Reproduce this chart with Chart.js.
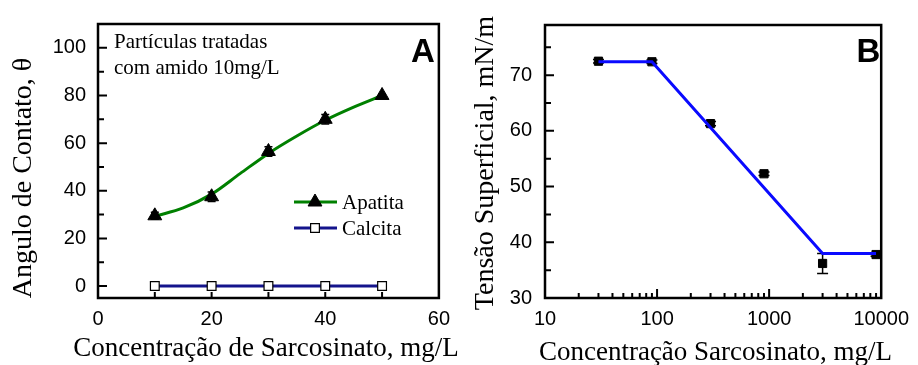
<!DOCTYPE html>
<html lang="pt">
<head>
<meta charset="utf-8">
<title>Ângulo de contato e tensão superficial</title>
<script src="https://cdn.jsdelivr.net/npm/chart.js@4.4.1/dist/chart.umd.min.js"></script>
<style>
  html, body { margin: 0; padding: 0; background: #fff; }
  #wrap { position: relative; width: 918px; height: 365px; overflow: hidden; }
  canvas { position: absolute; top: 0; }
  #chartA { left: 0; }
  #chartB { left: 459px; }
</style>
</head>
<body>
<div id="wrap">
  <canvas id="chartA" width="459" height="365"></canvas>
  <canvas id="chartB" width="459" height="365"></canvas>
</div>
<script>
// --- Painel A : ângulo de contato ---
const CONC_A = [10, 20, 30, 40, 50];
const APATITA = [29.5, 37.5, 56.5, 70, 80];
const APATITA_ERR = [1.5, 2, 2, 2, 0.5];
const CALCITA = [0, 0, 0, 0, 0];
// curva de ajuste da apatita
const CURVA_A_X = [10, 15, 20, 25, 30, 35, 40, 45, 50];
const CURVA_A_Y = [29.3, 32.8, 38.6, 47.2, 55.7, 63, 69.6, 75.1, 80];
const TICKS_A_X = [0, 20, 40, 60];
const TICKS_A_Y = [0, 20, 40, 60, 80, 100];

// --- Painel B : tensão superficial ---
const CONC_B = [30, 90, 300, 900, 3000, 9000];
const TENSAO = [72.5, 72.4, 61.3, 52.3, 36.2, 37.8];
const TENSAO_ERR = [0.3, 0.3, 0.4, 0.3, 1.8, 0.3];
const AJUSTE_X = [30, 90, 3000, 9000];
const AJUSTE_Y = [72.4, 72.4, 38, 38];
const TICKS_B_X = [10, 100, 1000, 10000];
const TICKS_B_Y = [30, 40, 50, 60, 70];

const SERIF = '"Liberation Serif", "Times New Roman", serif';
const SANS = '"Liberation Sans", Arial, sans-serif';
const VERDE = '#008000';
const MARINHO = '#14148c';
const AZUL = '#0a0aff';

Chart.defaults.color = '#000';

function pares(xs, ys) {
    return xs.map((x, i) => ({ x: x, y: ys[i] }));
}

// Moldura com ticks para dentro
function moldura(def) {
    return {
        id: 'moldura',
        beforeDatasetsDraw(chart) {
            const { ctx, chartArea: a, scales: { x, y } } = chart;
            ctx.save();
            ctx.strokeStyle = '#000';
            ctx.lineWidth = 2;
            ctx.beginPath();
            def.x.forEach(([v, len]) => {
                const px = x.getPixelForValue(v);
                ctx.moveTo(px, a.bottom);
                ctx.lineTo(px, a.bottom - len);
            });
            def.y.forEach(([v, len]) => {
                const py = y.getPixelForValue(v);
                ctx.moveTo(a.left, py);
                ctx.lineTo(a.left + len, py);
            });
            ctx.stroke();
            ctx.lineWidth = 2.5;
            ctx.strokeRect(a.left, a.top, a.right - a.left, a.bottom - a.top);
            ctx.restore();
        }
    };
}

// Barras de erro (desenhadas sob os marcadores)
function barrasErro(dsIndex, erros, cap) {
    return {
        id: 'barrasErro',
        beforeDatasetsDraw(chart) {
            const { ctx, scales: { x, y } } = chart;
            const dados = chart.data.datasets[dsIndex].data;
            ctx.save();
            ctx.strokeStyle = '#000';
            ctx.lineWidth = 1.5;
            ctx.beginPath();
            dados.forEach((p, i) => {
                const px = x.getPixelForValue(p.x);
                const y1 = y.getPixelForValue(p.y + erros[i]);
                const y2 = y.getPixelForValue(p.y - erros[i]);
                ctx.moveTo(px, y1); ctx.lineTo(px, y2);
                ctx.moveTo(px - cap / 2, y1); ctx.lineTo(px + cap / 2, y1);
                ctx.moveTo(px - cap / 2, y2); ctx.lineTo(px + cap / 2, y2);
            });
            ctx.stroke();
            ctx.restore();
        }
    };
}

const textosA = {
    id: 'textosA',
    afterDraw(chart) {
        const ctx = chart.ctx;
        const ds = chart.data.datasets;
        ctx.save();
        ctx.fillStyle = '#000';
        ctx.textBaseline = 'alphabetic';
        ctx.textAlign = 'left';
        ctx.font = '21px ' + SERIF;
        ctx.fillText('Partículas tratadas', 114, 48);
        ctx.fillText('com amido 10mg/L', 114, 74);
        ctx.font = 'bold 33px ' + SANS;
        ctx.fillText('A', 411, 62);

        // legenda: [dataset da linha, dataset dos marcadores, y]
        const itens = [[ds[1], ds[0], 202], [ds[2], ds[2], 228]];
        itens.forEach(([linha, marca, ly]) => {
            ctx.strokeStyle = linha.borderColor;
            ctx.lineWidth = 3;
            ctx.beginPath();
            ctx.moveTo(294, ly);
            ctx.lineTo(337, ly);
            ctx.stroke();
            ctx.fillStyle = marca.pointBackgroundColor;
            ctx.strokeStyle = marca.pointBorderColor;
            ctx.lineWidth = marca.pointBorderWidth;
            Chart.helpers.drawPoint(ctx, { pointStyle: marca.pointStyle, radius: marca.pointRadius, borderWidth: marca.pointBorderWidth, rotation: 0 }, 315, ly);
            ctx.fillStyle = '#000';
            ctx.font = '21px ' + SERIF;
            ctx.textAlign = 'left';
            ctx.fillText(marca.label, 342, ly + 7);
        });

        ctx.textAlign = 'center';
        ctx.font = '27px ' + SERIF;
        ctx.fillText('Concentração de Sarcosinato, mg/L', 266, 356);
        ctx.translate(31, 178);
        ctx.rotate(-Math.PI / 2);
        ctx.font = '28px ' + SERIF;
        ctx.fillText('Angulo de Contato, θ', 0, 0);
        ctx.restore();
    }
};

const textosB = {
    id: 'textosB',
    afterDraw(chart) {
        const ctx = chart.ctx;
        ctx.save();
        ctx.fillStyle = '#000';
        ctx.textBaseline = 'alphabetic';
        ctx.textAlign = 'left';
        ctx.font = 'bold 33px ' + SANS;
        ctx.fillText('B', 856.5 - 459, 62);
        ctx.textAlign = 'center';
        ctx.font = '27px ' + SERIF;
        ctx.fillText('Concentração Sarcosinato, mg/L', 715.5 - 459, 360);
        ctx.translate(493 - 459, 163);
        ctx.rotate(-Math.PI / 2);
        ctx.font = '28px ' + SERIF;
        ctx.fillText('Tensão Superficial, mN/m', 0, 0);
        ctx.restore();
    }
};

const fonteTicks = { family: SANS, size: 20 };

// ticks da moldura A
const ticksAX = [10, 20, 30, 40, 50].map(v => [v, 6]);
const ticksAY = [];
for (let v = 0; v <= 100; v += 10) ticksAY.push([v, v % 20 === 0 ? 9 : 6]);

new Chart(document.getElementById('chartA'), {
    type: 'line',
    data: {
        datasets: [
            {
                label: 'Apatita',
                data: pares(CONC_A, APATITA),
                showLine: false,
                pointStyle: 'triangle',
                pointRadius: 8,
                pointBackgroundColor: '#000',
                pointBorderColor: '#000',
                pointBorderWidth: 1
            },
            {
                label: 'Ajuste apatita',
                data: pares(CURVA_A_X, CURVA_A_Y),
                borderColor: VERDE,
                borderWidth: 3,
                cubicInterpolationMode: 'monotone',
                pointRadius: 0
            },
            {
                label: 'Calcita',
                data: pares(CONC_A, CALCITA),
                borderColor: MARINHO,
                borderWidth: 3,
                tension: 0,
                pointStyle: 'rect',
                pointRadius: 6.2,
                pointBackgroundColor: '#fff',
                pointBorderColor: '#000',
                pointBorderWidth: 1.2
            }
        ]
    },
    options: {
        responsive: false,
        animation: false,
        devicePixelRatio: 1,
        layout: { padding: { top: 19, right: 18, left: 0, bottom: 0 } },
        plugins: { legend: { display: false }, tooltip: { enabled: false } },
        scales: {
            x: {
                type: 'linear', min: 0, max: 60,
                grid: { display: false, drawTicks: false },
                border: { display: false },
                ticks: { padding: 9, font: fonteTicks, color: '#000', maxRotation: 0 },
                afterBuildTicks: s => { s.ticks = TICKS_A_X.map(v => ({ value: v })); },
                afterFit: s => { s.height = 67; }
            },
            y: {
                type: 'linear', min: -5, max: 110,
                grid: { display: false, drawTicks: false },
                border: { display: false },
                ticks: { padding: 12, font: fonteTicks, color: '#000' },
                afterBuildTicks: s => { s.ticks = TICKS_A_Y.map(v => ({ value: v })); },
                afterFit: s => { s.width = 98; }
            }
        }
    },
    plugins: [moldura({ x: ticksAX, y: ticksAY }), barrasErro(0, APATITA_ERR, 8), textosA]
});

// ticks da moldura B (log)
const ticksBX = [];
[10, 100, 1000].forEach(d => {
    for (let k = 2; k <= 9; k++) ticksBX.push([d * k, 5]);
    if (d > 10) ticksBX.push([d, 9]);
});
const ticksBY = [];
for (let v = 30; v <= 75; v += 5) ticksBY.push([v, v % 10 === 0 ? 9 : 6]);

new Chart(document.getElementById('chartB'), {
    type: 'line',
    data: {
        datasets: [
            {
                label: 'Ajuste',
                data: pares(AJUSTE_X, AJUSTE_Y),
                borderColor: AZUL,
                borderWidth: 3,
                tension: 0,
                pointRadius: 0
            },
            {
                label: 'Tensão',
                data: pares(CONC_B, TENSAO),
                showLine: false,
                pointStyle: 'rect',
                pointRadius: 5.8,
                pointBackgroundColor: '#000',
                pointBorderColor: '#000',
                pointBorderWidth: 1
            }
        ]
    },
    options: {
        responsive: false,
        animation: false,
        devicePixelRatio: 1,
        layout: { padding: { top: 19, right: 30, left: 0, bottom: 0 } },
        plugins: { legend: { display: false }, tooltip: { enabled: false } },
        scales: {
            x: {
                type: 'logarithmic', min: 10, max: 10000,
                grid: { display: false, drawTicks: false },
                border: { display: false },
                ticks: { padding: 9, font: fonteTicks, color: '#000', maxRotation: 0, autoSkip: false, callback: v => String(v) },
                afterBuildTicks: s => { s.ticks = TICKS_B_X.map(v => ({ value: v })); },
                afterFit: s => { s.height = 67; }
            },
            y: {
                type: 'linear', min: 30, max: 79,
                grid: { display: false, drawTicks: false },
                border: { display: false },
                ticks: { padding: 13, font: fonteTicks, color: '#000' },
                afterBuildTicks: s => { s.ticks = TICKS_B_Y.map(v => ({ value: v })); },
                afterFit: s => { s.width = 86; }
            }
        }
    },
    plugins: [moldura({ x: ticksBX, y: ticksBY }), barrasErro(1, TENSAO_ERR, 11), textosB]
});
</script>
</body>
</html>
